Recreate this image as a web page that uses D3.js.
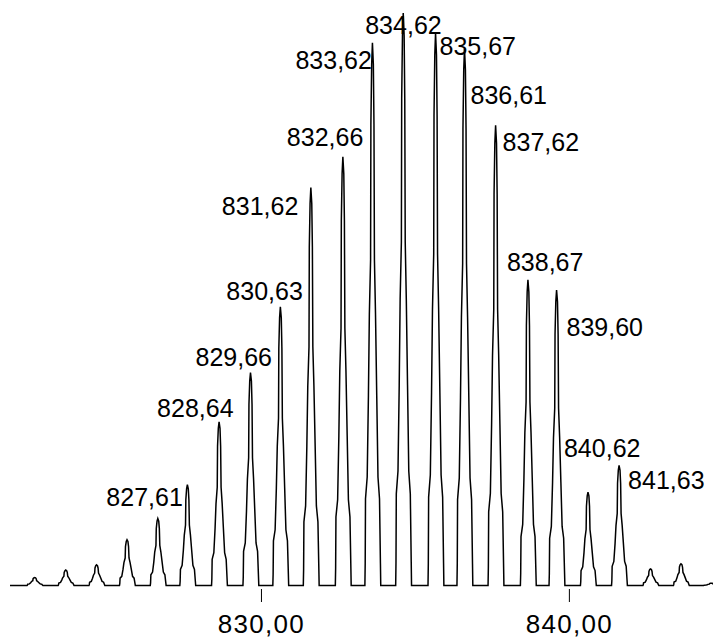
<!DOCTYPE html>
<html>
<head>
<meta charset="utf-8">
<script src="https://cdn.jsdelivr.net/npm/d3@7"></script>
<style>
  html, body { margin: 0; padding: 0; background: #fff; }
  svg { display: block; }
</style>
</head>
<body>
<svg id="chart" width="713" height="644"></svg>
<script>
// ---- data ----
const peakMz = [822.65, 823.66, 824.66, 825.65, 826.65, 827.61, 828.64, 829.66, 830.63, 831.62,
                832.66, 833.62, 834.62, 835.67, 836.61, 837.62, 838.67, 839.60, 840.62, 841.63,
                842.65, 843.64, 844.62];
const peakIntensity = [1.4, 2.7, 3.6, 8.0, 11.7, 17.6, 28.6, 37.2, 48.7, 69.5,
                       74.9, 94.8, 100, 96.5, 93.8, 80.4, 53.4, 51.6, 16.3, 21.0,
                       2.9, 3.8, 0.4];
const labelTexts = ["827,61", "828,64", "829,66", "830,63", "831,62", "832,66", "833,62", "834,62",
                    "835,67", "836,61", "837,62", "838,67", "839,60", "840,62", "841,63"];
const labelMz = [827.61, 828.64, 829.66, 830.63, 831.62, 832.66, 833.62, 834.62,
                 835.67, 836.61, 837.62, 838.67, 839.60, 840.62, 841.63];
const tickValues = [830, 840];
// peak profile shape: [m/z offset, relative height]
const peakShape = [[-0.245, 0], [-0.235, 0.04], [-0.225, 0.16], [-0.17, 0.2], [-0.13, 0.35], [-0.1, 0.5],
                   [-0.06, 0.6], [-0.05, 0.85], [-0.025, 0.96], [0, 1], [0.03, 0.96], [0.05, 0.85],
                   [0.065, 0.6], [0.1, 0.5], [0.14, 0.35], [0.18, 0.2], [0.23, 0.16], [0.26, 0.04],
                   [0.27, 0]];

// ---- layout ----
const labelOffsets = [[-81, 21], [-62, -5], [-55, -7], [-54, -7], [-89, 27], [-56, -11], [-77, 26], [-38, 21],
                      [4, 22], [6, 56], [7, 26], [-21, -9], [10, 46], [-24, -35], [9, 24]];

const svg = d3.select("#chart");
const x = d3.scaleLinear().domain([821.85, 844.68]).range([10, 713]);
const y = d3.scaleLinear().domain([0, 100]).range([585.5, 13]);

// build spectrum points
const pts = [[x.domain()[0], 0]];
peakMz.forEach((mz, i) => {
  peakShape.forEach(([dm, r]) => pts.push([mz + dm, r * peakIntensity[i]]));
});
pts.push([x.domain()[1], 0]);

const line = d3.line().x(d => x(d[0])).y(d => y(d[1]));

svg.append("path")
  .datum(pts)
  .attr("d", line)
  .attr("fill", "none")
  .attr("stroke", "#000")
  .attr("stroke-width", 1.5)
  .attr("stroke-linejoin", "miter");

// axis
const axis = d3.axisBottom(x)
  .tickValues(tickValues)
  .tickSize(13)
  .tickPadding(16)
  .tickFormat(d => d3.format(".2f")(d).replace(".", ","));

const gAxis = svg.append("g")
  .attr("transform", "translate(0,589)")
  .call(axis);
gAxis.select(".domain").remove();
gAxis.selectAll(".tick line").attr("stroke", "#000").attr("stroke-width", 1);
gAxis.selectAll(".tick text")
  .attr("fill", "#000")
  .attr("dy", null)
  .attr("y", 43.5)
  .style("font-family", "'Liberation Sans', Arial, sans-serif")
  .style("font-size", "26px")
  .style("letter-spacing", "1.3px");

// peak labels
svg.append("g").selectAll("text")
  .data(labelTexts)
  .join("text")
  .attr("x", (d, i) => x(labelMz[i]) + labelOffsets[i][0])
  .attr("y", (d, i) => {
    const k = peakMz.indexOf(labelMz[i]);
    return y(peakIntensity[k]) + labelOffsets[i][1];
  })
  .attr("fill", "#000")
  .style("font-family", "'Liberation Sans', Arial, sans-serif")
  .style("font-size", "25px")
  .text(d => d);
</script>
</body>
</html>
